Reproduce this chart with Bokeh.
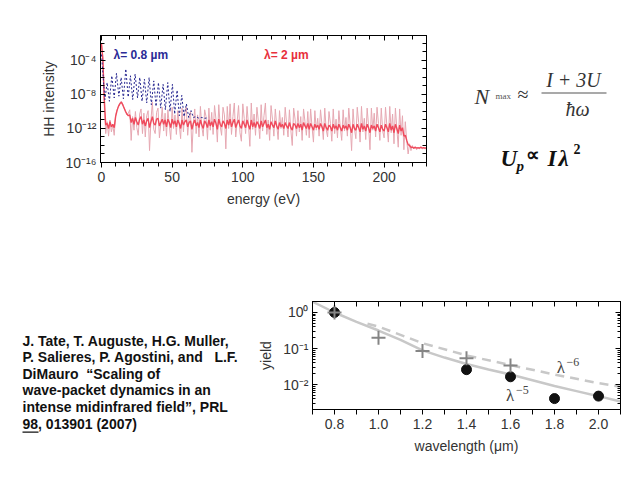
import numpy as np
from bokeh.plotting import figure
from bokeh.layouts import column, row
from bokeh.models import (Range1d, FixedTicker, LinearAxis, LogAxis, CustomJSTickFormatter,
                          NumeralTickFormatter, Label, BoxAnnotation)
from bokeh.embed import file_html
from bokeh.resources import INLINE

# ---------------- data: HHG spectra (log10 of intensity, 1 eV sampling) ----------------
energy_2um = list(range(0, 231))
hh_2um_light_log = [
    -2.2, -3.5, -9.5, -12.6, -11.2, -12.9, -11.0, -12.4, -11.6, -12.8,
    -10.4, -9.8, -9.4, -9.0, -8.8, -9.1, -9.6, -9.9, -10.4, -10.2,
    -9.8, -13.4, -10.6, -12.2, -10.0, -11.9, -12.8, -10.3, -9.7, -12.6,
    -10.2, -13.0, -10.5, -9.9, -14.6, -11.0, -8.9, -12.1, -12.6, -10.1,
    -9.6, -13.1, -11.4, -9.5, -12.3, -10.2, -12.9, -9.8, -11.6, -13.3,
    -9.5, -12.0, -10.4, -12.7, -9.9, -11.5, -13.2, -9.6, -12.4, -10.1,
    -9.5, -12.8, -10.8, -10.0, -14.8, -11.3, -9.7, -12.6, -10.4, -13.0,
    -9.4, -11.8, -12.9, -9.8, -10.6, -13.3, -9.6, -12.2, -10.1, -12.7,
    -9.3, -10.9, -13.6, -9.2, -11.7, -12.8, -9.5, -10.4, -14.4, -9.4,
    -12.0, -9.1, -12.7, -10.6, -9.0, -13.0, -11.2, -9.3, -12.5, -13.5,
    -9.1, -10.8, -12.6, -9.4, -11.5, -14.1, -9.0, -12.1, -10.3, -12.8,
    -9.5, -11.1, -13.2, -9.2, -12.3, -10.5, -9.0, -12.7, -11.0, -13.4,
    -9.3, -10.9, -12.9, -9.7, -11.6, -13.3, -9.9, -12.0, -10.7, -12.8,
    -9.5, -11.4, -13.0, -9.8, -12.2, -14.0, -9.6, -10.9, -12.9, -9.9,
    -12.4, -10.6, -13.4, -9.7, -11.2, -12.8, -10.0, -13.1, -9.7, -11.8,
    -13.6, -9.9, -12.2, -10.8, -12.9, -9.8, -11.5, -13.3, -9.6, -12.1,
    -13.0, -10.0, -11.4, -13.5, -9.7, -12.6, -10.9, -13.1, -9.9, -11.9,
    -13.4, -9.8, -12.3, -10.7, -12.9, -9.6, -11.6, -14.6, -9.7, -12.0,
    -13.2, -9.5, -11.3, -13.6, -9.4, -12.4, -10.8, -13.3, -9.6, -11.7,
    -14.5, -9.6, -12.2, -10.2, -13.0, -9.5, -11.4, -13.4, -9.6, -12.3,
    -13.1, -9.5, -11.8, -13.6, -9.4, -12.5, -10.3, -13.8, -9.6, -12.0,
    -14.2, -9.7, -12.8, -10.5, -14.5, -11.2, -13.4, -15.0, -13.8, -14.6,
    -14.0, -14.4, -14.2, -14.5, -14.3, -14.4, -14.2, -14.4, -14.3, -14.4,
    -14.3]
hh_2um_core_log = [
    -2.0, -4.0, -8.6, -11.6, -11.4, -12.0, -11.2, -11.8, -11.5, -11.9,
    -10.6, -9.9, -9.4, -9.1, -8.9, -9.2, -9.6, -10.0, -10.3, -10.5,
    -10.4, -11.3, -10.8, -11.5, -10.7, -11.2, -11.6, -10.9, -10.6, -11.5,
    -11.0, -11.7, -11.1, -10.8, -11.9, -11.2, -10.6, -11.4, -11.6, -10.9,
    -10.8, -11.7, -11.3, -10.9, -11.5, -11.0, -11.8, -10.9, -11.3, -11.9,
    -10.9, -11.5, -11.1, -11.8, -11.0, -11.4, -12.0, -11.0, -11.6, -11.2,
    -11.0, -11.8, -11.3, -11.1, -12.1, -11.4, -11.0, -11.7, -11.3, -11.9,
    -11.0, -11.6, -12.0, -11.1, -11.4, -11.9, -11.0, -11.7, -11.2, -11.8,
    -10.9, -11.4, -12.1, -10.9, -11.5, -11.8, -11.1, -11.4, -12.0, -11.0,
    -11.6, -10.9, -11.8, -11.3, -10.9, -11.9, -11.4, -11.0, -11.7, -12.0,
    -11.1, -11.5, -11.9, -11.0, -11.6, -12.1, -11.0, -11.8, -11.3, -11.9,
    -11.2, -11.5, -12.0, -11.1, -11.8, -11.4, -11.0, -11.9, -11.5, -12.1,
    -11.2, -11.6, -11.9, -11.1, -11.7, -12.1, -11.3, -11.8, -11.5, -12.0,
    -11.3, -11.7, -12.0, -11.3, -11.9, -12.2, -11.4, -11.6, -12.0, -11.4,
    -11.9, -11.5, -12.2, -11.3, -11.7, -12.0, -11.4, -12.1, -11.4, -11.8,
    -12.2, -11.5, -11.9, -11.6, -12.1, -11.4, -11.8, -12.3, -11.4, -11.9,
    -12.2, -11.6, -11.8, -12.3, -11.5, -12.0, -11.7, -12.2, -11.5, -11.9,
    -12.3, -11.6, -12.0, -11.7, -12.2, -11.5, -11.9, -12.5, -11.5, -12.0,
    -12.2, -11.5, -11.9, -12.4, -11.4, -12.1, -11.7, -12.3, -11.5, -11.9,
    -12.5, -11.6, -12.0, -11.7, -12.3, -11.5, -11.9, -12.4, -11.6, -12.1,
    -12.3, -11.5, -11.9, -12.4, -11.4, -12.2, -11.7, -12.5, -11.5, -12.0,
    -12.6, -11.6, -12.3, -11.9, -12.9, -12.8, -13.4, -13.9, -14.0, -14.2,
    -14.2, -14.3, -14.2, -14.3, -14.25, -14.3, -14.2, -14.3, -14.25, -14.3,
    -14.3]
energy_08um = [0.0, 2.4, 4.0, 5.6, 7.3, 9.0, 10.6, 12.3, 13.9, 15.5, 17.2, 18.9, 20.5, 22.1,
               23.8, 25.5, 27.1, 28.7, 30.4, 32.0, 33.7, 35.3, 37.0, 38.6, 40.3, 41.9, 43.6,
               45.2, 46.9, 48.5, 50.2, 51.8, 53.5, 55.1, 56.8, 58.4, 60.1, 61.7, 63.4, 65.0,
               67.0, 69.0, 71.0, 73.0, 75.0]
hh_08um_log = [-3.3, -8.6, -6.6, -8.8, -5.8, -8.4, -5.5, -8.2, -6.0, -8.5, -5.0, -8.3, -5.8, -8.6,
               -5.6, -8.4, -6.0, -8.8, -6.2, -9.0, -6.0, -9.2, -6.4, -9.4, -6.6, -9.6, -6.8,
               -9.8, -6.6, -10.0, -6.8, -10.3, -7.5, -10.5, -8.1, -10.6, -9.1, -10.7, -9.9, -10.7,
               -10.6, -10.8, -10.7, -10.8, -10.75]
energy_ticks = [0, 50, 100, 150, 200]
intensity_ticks = [1e-16, 1e-12, 1e-8, 1e-4]

# ---------------- data: yield vs wavelength ----------------
wavelength_ticks = [0.8, 1.0, 1.2, 1.4, 1.6, 1.8, 2.0]
circle_wl = [0.8, 1.4, 1.6, 1.8, 2.0]
circle_yield = [1.0, 0.026, 0.0165, 0.0041, 0.0048]
cross_wl = [0.8, 1.0, 1.2, 1.4, 1.6]
cross_yield = [1.0, 0.2, 0.085, 0.054, 0.034]
fit5_wl = [0.7, 0.8, 0.9, 1.0, 1.1, 1.2, 1.3, 1.4, 1.5, 1.6, 1.7, 1.8, 1.9, 2.0, 2.1]
fit5_log = [0.30, 0.0, -0.26, -0.50, -0.76, -1.05, -1.25, -1.43, -1.58, -1.72, -1.88, -2.04, -2.18, -2.32, -2.47]
fit6_wl = [0.95, 1.0, 1.1, 1.2, 1.4, 1.6, 1.8, 2.0, 2.1]
fit6_log = [-0.31, -0.39, -0.62, -0.85, -1.19, -1.46, -1.72, -1.96, -2.06]
yield_ticks = [1e-2, 1e-1, 1e0]

NB = "\u00a0"
citation_lines = ["J. Tate, T. Auguste, H.G. Muller,",
                  "P. Salieres, P. Agostini, and " + NB + NB + "L.F.",
                  "DiMauro " + NB + "\u201cScaling of",
                  "wave-packet dynamics in an",
                  "intense midinfrared field\u201d, PRL",
                  "98, 013901 (2007)"]

FONT = "Liberation Sans"
SERIF = "Liberation Serif"
TXT = "#333333"

SUP_JS = """
const sup = {"-": "\\u207b", "0": "\\u2070", "1": "\\u00b9", "2": "\\u00b2", "3": "\\u00b3",
             "4": "\\u2074", "5": "\\u2075", "6": "\\u2076", "7": "\\u2077", "8": "\\u2078", "9": "\\u2079"};
const e = Math.round(Math.log10(tick));
return "10" + String(e).split("").map(c => sup[c]).join("");
"""
BLANK_JS = "return '';"


def style_axis(ax, tin, tout, labels=True):
    ax.axis_line_color = "black"
    ax.major_tick_line_color = "black"
    ax.minor_tick_line_color = "black"
    ax.major_tick_in = tin
    ax.major_tick_out = tout
    ax.minor_tick_in = max(tin - 2, 0) if tin else 0
    ax.minor_tick_out = max(tout - 2, 0) if tout else 0
    ax.major_label_text_font = FONT
    ax.major_label_text_font_size = "14px"
    ax.major_label_text_color = TXT
    ax.major_label_standoff = 4
    ax.axis_label_text_font = FONT
    ax.axis_label_text_font_size = "14px"
    ax.axis_label_text_font_style = "normal"
    ax.axis_label_text_color = TXT
    ax.axis_label_standoff = 6
    if not labels:
        ax.formatter = CustomJSTickFormatter(code=BLANK_JS)
        ax.major_label_text_font_size = "1px"
        ax.major_label_standoff = 0


# ---------------- top: HH spectra ----------------
p1 = figure(width=450, height=215, x_range=Range1d(-0.7, 230), y_range=Range1d(1e-16, 10 ** -1.06),
            y_axis_type="log", output_backend="svg", toolbar_location=None,
            min_border_left=100, min_border_right=24, min_border_top=35, min_border_bottom=53)
p1.frame_align = False
p1.grid.visible = False
p1.outline_line_color = "black"

e_minor = list(range(0, 231, 10))
dec_minor = [10.0 ** k for k in range(-16, -1)]
p1.xaxis.ticker = FixedTicker(ticks=energy_ticks, minor_ticks=e_minor)
p1.yaxis.ticker = FixedTicker(ticks=intensity_ticks, minor_ticks=dec_minor)
p1.yaxis.formatter = CustomJSTickFormatter(code=SUP_JS)
p1.xaxis.axis_label = "energy (eV)"
p1.yaxis.axis_label = "HH intensity"
style_axis(p1.xaxis[0], 0, 5)
style_axis(p1.yaxis[0], 5, 0)
p1.yaxis[0].minor_tick_in = 4
p1.xaxis[0].minor_tick_out = 4
ax_t = LinearAxis(ticker=FixedTicker(ticks=energy_ticks, minor_ticks=e_minor))
style_axis(ax_t, 5, 0, labels=False)
ax_t.minor_tick_in = 4
p1.add_layout(ax_t, "above")
ax_r = LogAxis(ticker=FixedTicker(ticks=intensity_ticks, minor_ticks=dec_minor))
style_axis(ax_r, 5, 0, labels=False)
ax_r.minor_tick_in = 4
p1.add_layout(ax_r, "right")

p1.line(energy_2um, np.power(10.0, hh_2um_light_log), line_color="#e6a8b2", line_width=1)
p1.line(energy_2um, np.power(10.0, hh_2um_core_log), line_color="#f04a5c", line_width=1.4)
p1.line(energy_08um, np.power(10.0, hh_08um_log), line_color="#23238e", line_width=1, line_dash="2 2")

p1.add_layout(Label(x=8.5, y=10 ** -3.3, text="\u03bb= 0.8 \u00b5m", text_font=FONT, text_font_size="12px",
                    text_font_style="bold", text_color="#2b2b96", text_baseline="alphabetic"))
p1.add_layout(Label(x=115, y=10 ** -3.3, text="\u03bb= 2 \u00b5m", text_font=FONT, text_font_size="12px",
                    text_font_style="bold", text_color="#e8303c", text_baseline="alphabetic"))


def lab(p, x, y, t, size, style="normal", font=SERIF, color="#333333", align="left"):
    p.add_layout(Label(x=x, y=y, text=t, text_font=font, text_font_size=size, text_font_style=style,
                       text_color=color, text_baseline="alphabetic", text_align=align))


# ---------------- top right: formulas (page coordinates) ----------------
pf = figure(width=190, height=215, x_range=Range1d(450, 640), y_range=Range1d(215, 0),
            output_backend="svg", toolbar_location=None, x_axis_location=None, y_axis_location=None,
            min_border_left=0, min_border_right=0, min_border_top=0, min_border_bottom=0)
pf.frame_align = False
pf.grid.visible = False
pf.outline_line_color = None

lab(pf, 474, 96, "N", "22px", "italic")
lab(pf, 495, 95, "max", "9px", "normal", color="#555555")
lab(pf, 517, 93, "\u2248", "20px")
lab(pf, 573, 79, "I + 3U", "20px", "italic", align="center")
pf.add_layout(BoxAnnotation(left=541, right=606, bottom=92, top=93, fill_color="#555555", fill_alpha=1,
                            line_color=None))
lab(pf, 577, 108, "\u0127\u03c9", "20px", "italic", align="center")
lab(pf, 500, 158, "U", "23px", "bold italic", color="#111111")
lab(pf, 516, 165, "p", "15px", "bold italic", color="#111111")
lab(pf, 525, 154, "\u221d", "19px", "bold", color="#111111")
lab(pf, 547, 158, "I", "23px", "bold italic", color="#111111")
lab(pf, 558, 158, "\u03bb", "23px", "bold italic", color="#111111")
lab(pf, 573, 148, "2", "14px", "bold", color="#111111")

# ---------------- bottom left: citation (page coordinates) ----------------
pc = figure(width=250, height=265, x_range=Range1d(0, 250), y_range=Range1d(480, 215),
            output_backend="svg", toolbar_location=None, x_axis_location=None, y_axis_location=None,
            min_border_left=0, min_border_right=0, min_border_top=0, min_border_bottom=0)
pc.frame_align = False
pc.grid.visible = False
pc.outline_line_color = None
for i, line in enumerate(citation_lines):
    lab(pc, 22, 340 + i * 16.6, line, "14px", "bold", font=FONT, color="#111111")
pc.add_layout(BoxAnnotation(left=22, right=38, bottom=340 + 5 * 16.6 + 8, top=340 + 5 * 16.6 + 9.3,
                            fill_color="#111111", fill_alpha=1, line_color=None))

# ---------------- bottom right: yield vs wavelength ----------------
p2 = figure(width=390, height=265, x_range=Range1d(0.7, 2.1), y_range=Range1d(10 ** -2.69, 10 ** 0.305),
            y_axis_type="log", output_backend="svg", toolbar_location=None,
            min_border_left=62, min_border_right=20, min_border_top=86, min_border_bottom=71)
p2.frame_align = False
p2.grid.visible = False
p2.outline_line_color = "black"
wl_minor = [0.7, 0.9, 1.1, 1.3, 1.5, 1.7, 1.9, 2.1]
y_minor = [k * 10.0 ** n for n in range(-3, 1) for k in range(1, 10)]
p2.xaxis.ticker = FixedTicker(ticks=wavelength_ticks, minor_ticks=wl_minor)
p2.xaxis.formatter = NumeralTickFormatter(format="0.0")
p2.yaxis.ticker = FixedTicker(ticks=yield_ticks, minor_ticks=y_minor)
p2.yaxis.formatter = CustomJSTickFormatter(code=SUP_JS)
p2.xaxis.axis_label = "wavelength (\u03bcm)"
p2.yaxis.axis_label = "yield"
style_axis(p2.xaxis[0], 0, 5)
p2.xaxis[0].minor_tick_out = 5
style_axis(p2.yaxis[0], 5, 0)
p2.yaxis[0].minor_tick_in = 3
ax2t = LinearAxis(ticker=FixedTicker(ticks=wavelength_ticks, minor_ticks=wl_minor))
style_axis(ax2t, 5, 0, labels=False)
ax2t.minor_tick_in = 5
p2.add_layout(ax2t, "above")
ax2r = LogAxis(ticker=FixedTicker(ticks=yield_ticks, minor_ticks=y_minor))
style_axis(ax2r, 5, 0, labels=False)
ax2r.minor_tick_in = 3
p2.add_layout(ax2r, "right")

p2.line(fit5_wl, np.power(10.0, fit5_log), line_color="#c8c8c8", line_width=2.5)
p2.line(fit6_wl, np.power(10.0, fit6_log), line_color="#c8c8c8", line_width=2.5, line_dash="9 6")
p2.scatter(circle_wl, circle_yield, marker="circle", size=10, fill_color="#111111", line_color="#111111")
p2.scatter(cross_wl, cross_yield, marker="cross", size=14, line_color="#858585", line_width=2)

lab(p2, 1.81, 10 ** -1.53, "\u03bb", "17px", "normal", color="#444444")
lab(p2, 1.855, 10 ** -1.36, "\u22126", "12px", "normal", color="#444444")
lab(p2, 1.58, 10 ** -2.31, "\u03bb", "17px", "normal", color="#444444")
lab(p2, 1.625, 10 ** -2.14, "\u22125", "12px", "normal", color="#444444")

layout = column(row(p1, pf), row(pc, p2))
open("out.html", "w").write(file_html(layout, INLINE))
